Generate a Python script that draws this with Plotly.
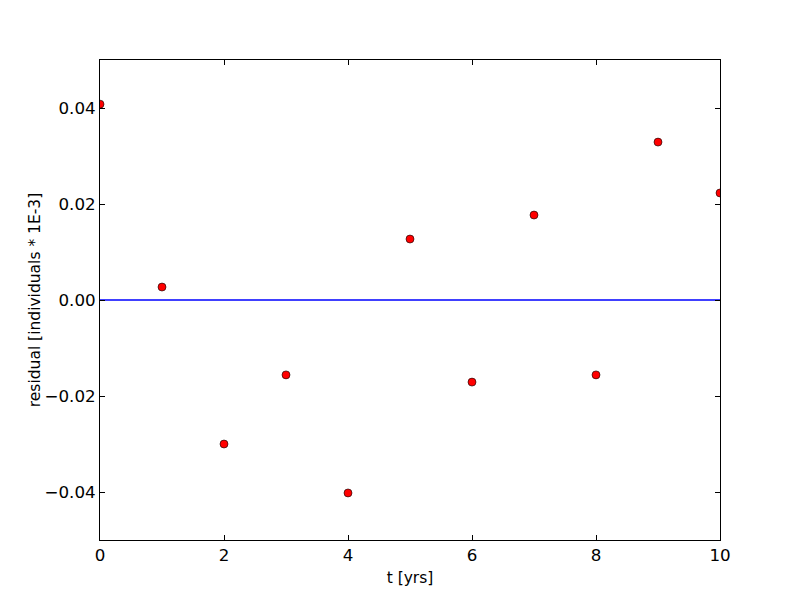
import plotly.graph_objects as go

t = [0, 1, 2, 3, 4, 5, 6, 7, 8, 9, 10]
residual = [0.0408, 0.0027, -0.0300, -0.0156, -0.0402, 0.0127, -0.0171, 0.0177, -0.0156, 0.0329, 0.0223]
x_ticks = [0, 2, 4, 6, 8, 10]
y_ticks = [-0.04, -0.02, 0.0, 0.02, 0.04]
y_tick_labels = ["\u22120.04", "\u22120.02", "0.00", "0.02", "0.04"]

fig = go.Figure()
fig.add_trace(go.Scatter(x=[t[0], t[-1]], y=[0, 0], mode="lines",
                         line=dict(color="#0000ff", width=1.4), showlegend=False,
                         hoverinfo="skip"))
fig.add_trace(go.Scatter(x=t, y=residual, mode="markers", cliponaxis=True,
                         marker=dict(color="red", size=8, line=dict(color="black", width=0.6)),
                         showlegend=False))

axis_common = dict(showgrid=False, zeroline=False, showline=True, linecolor="black",
                   linewidth=1, mirror="ticks", ticks="inside", ticklen=5,
                   tickcolor="black", tickwidth=1, tickfont=dict(size=16.7))
fig.update_xaxes(range=[0, 10], tickvals=x_ticks,
                 title=dict(text="t [yrs]", standoff=8, font=dict(size=15.5)),
                 **axis_common)
fig.update_yaxes(range=[-0.05, 0.05], tickvals=y_ticks, ticktext=y_tick_labels,
                 title=dict(text="residual [individuals * 1E-3]", standoff=0, font=dict(size=15.5)),
                 **axis_common)
fig.update_layout(width=800, height=600, margin=dict(l=92, r=88, t=52, b=68),
                  plot_bgcolor="white", paper_bgcolor="white",
                  font=dict(family="DejaVu Sans", size=16, color="black"))
fig.write_html("out.html")
